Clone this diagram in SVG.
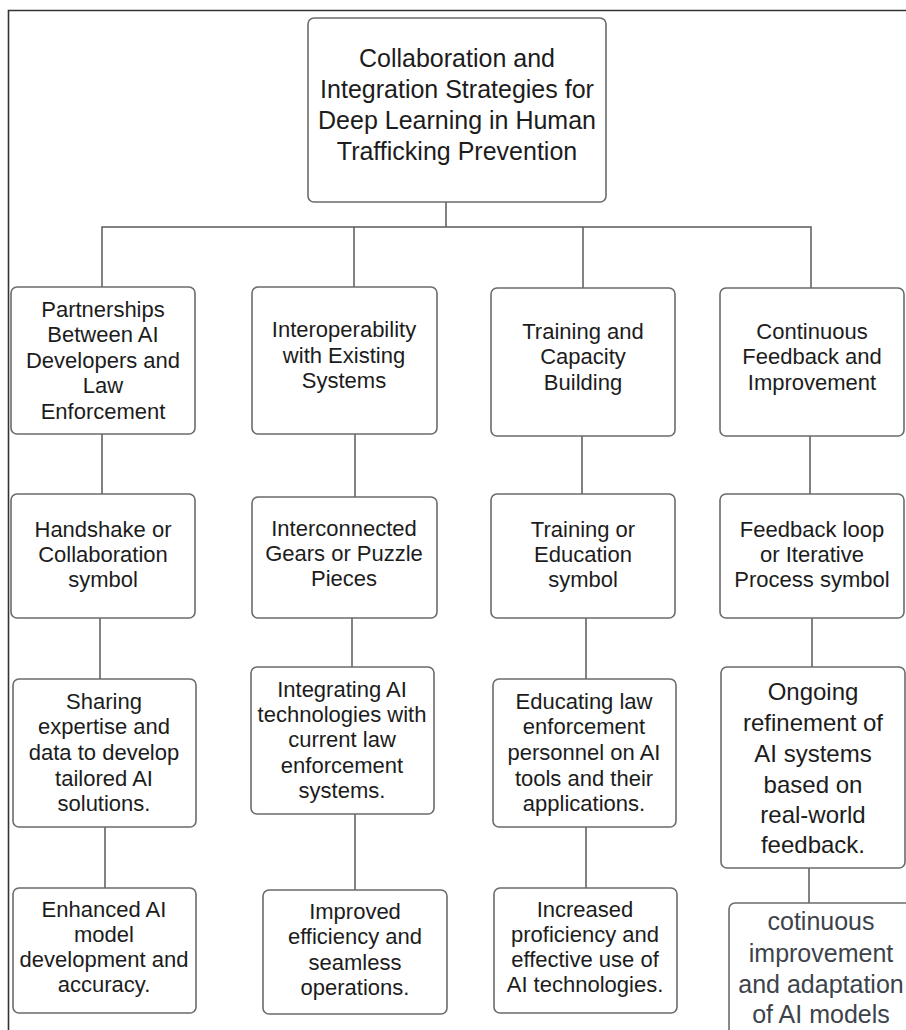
<svg xmlns="http://www.w3.org/2000/svg" width="906" height="1030" viewBox="0 0 906 1030">
<style>
.box{fill:#ffffff;stroke:#6b6b6b;stroke-width:1.6}
.t{font-family:"Liberation Sans",Arial,sans-serif;font-size:22px;fill:#1c1c1c;text-anchor:middle}
.tt{font-size:25px}
.tb{font-size:24px}
.tg{font-size:25px;fill:#3d434b}
.c{stroke:#5a5a5a;stroke-width:1.5;fill:none}
</style>
<rect width="906" height="1030" fill="#ffffff"/>
<path d="M8.5,1030 V10.5 H906" fill="none" stroke="#333333" stroke-width="1.6"/>
<g id="connectors">
<path class="c" d="M446,202 V227 M102,287 V227 H811 V288 M354,227 V287 M583,227 V288"/>
<path class="c" d="M102,434 V494 M355,434 V497 M582,436 V494 M810,436 V494"/>
<path class="c" d="M100,618 V679 M352,618 V667 M586,618 V679 M812,618 V667"/>
<path class="c" d="M105,827 V888 M355,814 V890 M586,827 V888 M809,868 V903"/>
</g>
<g id="root">
<rect class="box" x="308" y="18" width="298" height="184" rx="6"/>
<text class="t tt" x="457"><tspan x="457" y="67">Collaboration and</tspan><tspan x="457" y="98">Integration Strategies for</tspan><tspan x="457" y="129">Deep Learning in Human</tspan><tspan x="457" y="160">Trafficking Prevention</tspan></text>
</g>
<g id="n1">
<rect class="box" x="11" y="287" width="184" height="147" rx="6"/>
<text class="t"><tspan x="103" y="317">Partnerships</tspan><tspan x="103" y="342">Between AI</tspan><tspan x="103" y="368">Developers and</tspan><tspan x="103" y="393">Law</tspan><tspan x="103" y="419">Enforcement</tspan></text>
</g>
<g id="n2">
<rect class="box" x="252" y="287" width="185" height="147" rx="6"/>
<text class="t"><tspan x="344" y="337">Interoperability</tspan><tspan x="344" y="363">with Existing</tspan><tspan x="344" y="388">Systems</tspan></text>
</g>
<g id="n3">
<rect class="box" x="491" y="288" width="184" height="148" rx="6"/>
<text class="t"><tspan x="583" y="339">Training and</tspan><tspan x="583" y="364">Capacity</tspan><tspan x="583" y="390">Building</tspan></text>
</g>
<g id="n4">
<rect class="box" x="720" y="288" width="184" height="148" rx="6"/>
<text class="t"><tspan x="812" y="339">Continuous</tspan><tspan x="812" y="364">Feedback and</tspan><tspan x="812" y="390">Improvement</tspan></text>
</g>
<g id="n1b">
<rect class="box" x="11" y="494" width="184" height="124" rx="6"/>
<text class="t"><tspan x="103" y="537">Handshake or</tspan><tspan x="103" y="562">Collaboration</tspan><tspan x="103" y="587">symbol</tspan></text>
</g>
<g id="n2b">
<rect class="box" x="252" y="497" width="185" height="121" rx="6"/>
<text class="t"><tspan x="344" y="536">Interconnected</tspan><tspan x="344" y="561">Gears or Puzzle</tspan><tspan x="344" y="586">Pieces</tspan></text>
</g>
<g id="n3b">
<rect class="box" x="491" y="494" width="184" height="124" rx="6"/>
<text class="t"><tspan x="583" y="537">Training or</tspan><tspan x="583" y="562">Education</tspan><tspan x="583" y="587">symbol</tspan></text>
</g>
<g id="n4b">
<rect class="box" x="720" y="494" width="184" height="124" rx="6"/>
<text class="t"><tspan x="812" y="537">Feedback loop</tspan><tspan x="812" y="562">or Iterative</tspan><tspan x="812" y="587">Process symbol</tspan></text>
</g>
<g id="n1c">
<rect class="box" x="13" y="679" width="183" height="148" rx="6"/>
<text class="t"><tspan x="104" y="709">Sharing</tspan><tspan x="104" y="734">expertise and</tspan><tspan x="104" y="760">data to develop</tspan><tspan x="104" y="786">tailored AI</tspan><tspan x="104" y="811">solutions.</tspan></text>
</g>
<g id="n2c">
<rect class="box" x="251" y="667" width="183" height="147" rx="6"/>
<text class="t"><tspan x="342" y="697">Integrating AI</tspan><tspan x="342" y="722">technologies with</tspan><tspan x="342" y="747">current law</tspan><tspan x="342" y="773">enforcement</tspan><tspan x="342" y="798">systems.</tspan></text>
</g>
<g id="n3c">
<rect class="box" x="493" y="679" width="183" height="148" rx="6"/>
<text class="t"><tspan x="584" y="709">Educating law</tspan><tspan x="584" y="734">enforcement</tspan><tspan x="584" y="760">personnel on AI</tspan><tspan x="584" y="786">tools and their</tspan><tspan x="584" y="811">applications.</tspan></text>
</g>
<g id="n4c">
<rect class="box" x="721" y="667" width="184" height="201" rx="6"/>
<text class="t tb"><tspan x="813" y="700">Ongoing</tspan><tspan x="813" y="731">refinement of</tspan><tspan x="813" y="762">AI systems</tspan><tspan x="813" y="793">based on</tspan><tspan x="813" y="823">real-world</tspan><tspan x="813" y="853">feedback.</tspan></text>
</g>
<g id="n1d">
<rect class="box" x="13" y="888" width="183" height="125" rx="6"/>
<text class="t"><tspan x="104" y="917">Enhanced AI</tspan><tspan x="104" y="942">model</tspan><tspan x="104" y="967">development and</tspan><tspan x="104" y="992">accuracy.</tspan></text>
</g>
<g id="n2d">
<rect class="box" x="263" y="890" width="184" height="124" rx="6"/>
<text class="t"><tspan x="355" y="919">Improved</tspan><tspan x="355" y="944">efficiency and</tspan><tspan x="355" y="970">seamless</tspan><tspan x="355" y="995">operations.</tspan></text>
</g>
<g id="n3d">
<rect class="box" x="494" y="888" width="183" height="125" rx="6"/>
<text class="t"><tspan x="585" y="917">Increased</tspan><tspan x="585" y="942">proficiency and</tspan><tspan x="585" y="967">effective use of</tspan><tspan x="585" y="992">AI technologies.</tspan></text>
</g>
<g id="n4d">
<rect class="box" x="729" y="903" width="190" height="140" rx="6"/>
<text class="t tg"><tspan x="821" y="930">cotinuous</tspan><tspan x="821" y="962">improvement</tspan><tspan x="821" y="993">and adaptation</tspan><tspan x="821" y="1023">of AI models</tspan></text>
</g>
</svg>
